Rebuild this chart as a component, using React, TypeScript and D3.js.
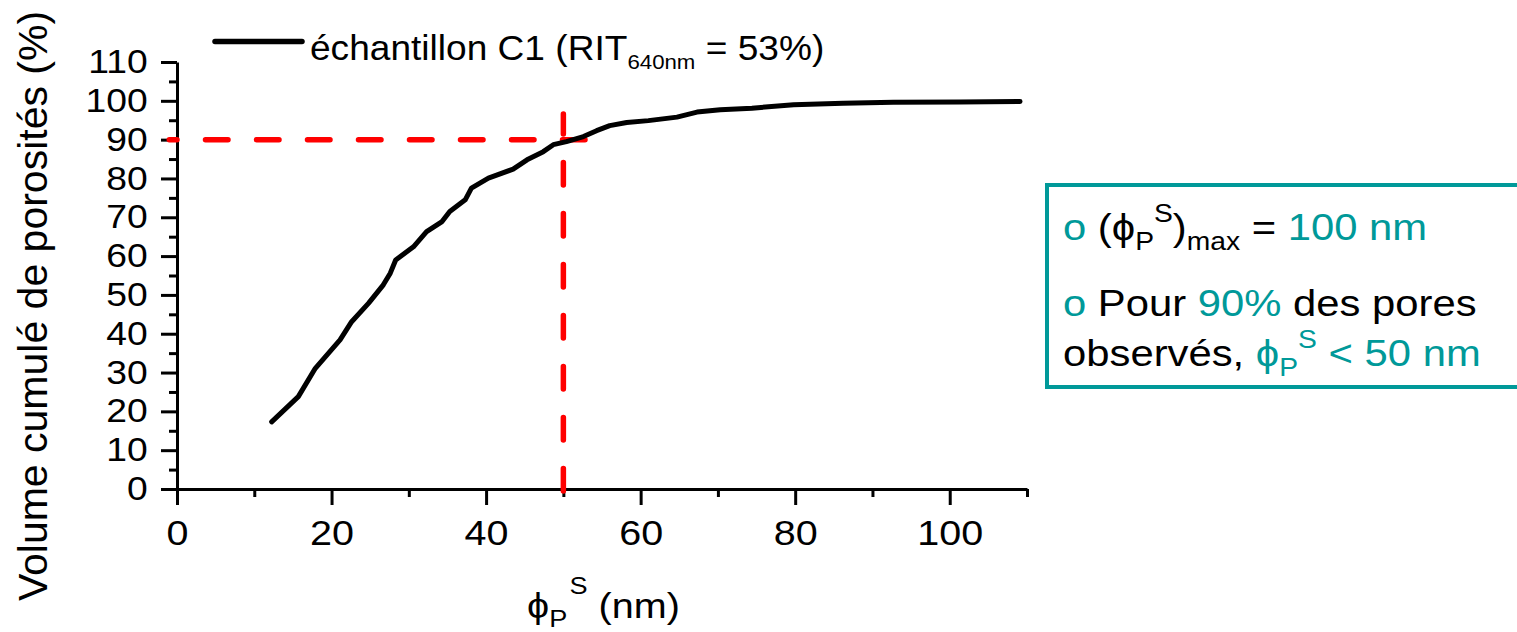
import { useEffect, useRef } from 'react';
import * as d3 from 'd3';

// cumulative pore volume, sample C1
const sizeNm = [12.25, 15.7, 17.9, 21.1, 22.6, 24.8, 26.7, 27.6, 28.3, 30.6, 32.3, 34.3, 35.3, 37.3, 38.1, 40.3, 43.5, 45.3, 47.4, 48.7, 50.4, 52.6, 54.3, 56.0, 58.2, 61.0, 64.7, 67.3, 70.3, 74.4, 79.8, 86.2, 92.7, 101.3, 109.1];
const cumVolume = [17.3, 23.8, 31.1, 38.4, 43.1, 47.9, 52.6, 55.6, 59.0, 62.4, 66.3, 68.9, 71.5, 74.5, 77.5, 80.1, 82.4, 84.8, 86.9, 88.7, 89.5, 90.8, 92.3, 93.6, 94.4, 94.9, 95.8, 97.1, 97.7, 98.1, 99.0, 99.4, 99.6, 99.7, 99.8];

const xMajorTicks = [0, 20, 40, 60, 80, 100];
const xMinorTicks = [10, 30, 50, 70, 90, 110];
const yMajorTicks = [0, 10, 20, 30, 40, 50, 60, 70, 80, 90, 100, 110];
const yMinorTicks = [5, 15, 25, 35, 45, 55, 65, 75, 85, 95, 105];

// 90 % guide lines
const guideX = [52.8, -1];
const guideLevel = 90;
const guideY = [-0.5, 96.6];
const guideSize = 50;

const FONT = '"Liberation Sans", Arial, Helvetica, sans-serif';
const TEAL = '#009999';
const SX = 1.13; // glyphs in the source are stretched horizontally

export default function App() {
    const ref = useRef<SVGSVGElement>(null);

    useEffect(() => {
        if (!ref.current) return;
        const svg = d3.select(ref.current);
        svg.selectAll('*').remove();

        const x = d3.scaleLinear().domain([0, 110]).range([177, 1027]);
        const y = d3.scaleLinear().domain([0, 110]).range([489, 62]);

        const styleAxis = (g, size) => {
            g.attr('font-family', FONT).attr('font-size', size);
            g.selectAll('line').attr('stroke', '#000').attr('stroke-width', 3);
            g.selectAll('.domain').attr('stroke', '#000').attr('stroke-width', 3);
            g.selectAll('text').attr('fill', '#000').attr('transform', `scale(${SX},1)`);
        };

        // X axis
        const gxMinor = svg.append('g').attr('transform', `translate(0,${y(0)})`)
            .call(d3.axisBottom(x).tickValues(xMinorTicks).tickSize(8).tickFormat(() => ''));
        gxMinor.select('.domain').remove();
        styleAxis(gxMinor, 35);
        const gx = svg.append('g').attr('transform', `translate(0,${y(0)})`)
            .call(d3.axisBottom(x).tickValues(xMajorTicks).tickSize(16).tickSizeOuter(0).tickPadding(15).tickFormat(d3.format('d')));
        styleAxis(gx, 35);

        // Y axis
        const gyMinor = svg.append('g').attr('transform', `translate(${x(0)},0)`)
            .call(d3.axisLeft(y).tickValues(yMinorTicks).tickSize(8).tickFormat(() => ''));
        gyMinor.select('.domain').remove();
        styleAxis(gyMinor, 33);
        const gy = svg.append('g').attr('transform', `translate(${x(0)},0)`)
            .call(d3.axisLeft(y).tickValues(yMajorTicks).tickSize(16).tickSizeOuter(0).tickPadding(10).tickFormat(d3.format('d')));
        styleAxis(gy, 33);

        // Guide lines
        const guide = d3.line().x(d => x(d[0])).y(d => y(d[1]));
        svg.append('path')
            .attr('d', guide(guideX.map(v => [v, guideLevel])))
            .attr('fill', 'none').attr('stroke', '#ff0000').attr('stroke-width', 5.5)
            .attr('stroke-linecap', 'round').attr('stroke-dasharray', '22.5 28.5');
        svg.append('path')
            .attr('d', guide(guideY.map(v => [guideSize, v])))
            .attr('fill', 'none').attr('stroke', '#ff0000').attr('stroke-width', 5.5)
            .attr('stroke-linecap', 'round').attr('stroke-dasharray', '22.5 28.5');

        // Curve
        const line = d3.line().x((d, i) => x(sizeNm[i])).y(d => y(d));
        svg.append('path')
            .attr('d', line(cumVolume))
            .attr('fill', 'none').attr('stroke', '#000').attr('stroke-width', 5)
            .attr('stroke-linejoin', 'round').attr('stroke-linecap', 'round');

        // Legend
        svg.append('line')
            .attr('x1', 215).attr('x2', 302).attr('y1', 41.5).attr('y2', 41.5)
            .attr('stroke', '#000').attr('stroke-width', 5.5).attr('stroke-linecap', 'round');
        const lg = svg.append('text')
            .attr('transform', `translate(310,60) scale(1.06,1)`)
            .attr('font-family', FONT).attr('font-size', 35);
        lg.append('tspan').text('échantillon C1 (RIT');
        lg.append('tspan').attr('font-size', 21).attr('dy', 9).text('640nm');
        lg.append('tspan').attr('dy', -9).text(' = 53%)');

        // Y title
        svg.append('text')
            .attr('transform', 'translate(47,306) rotate(-90)')
            .attr('text-anchor', 'middle')
            .attr('font-family', FONT).attr('font-size', 41)
            .text('Volume cumulé de porosités (%)');

        // X title
        const xt = svg.append('text')
            .attr('transform', `translate(527,618) scale(${SX},1)`)
            .attr('font-family', FONT).attr('font-size', 35);
        xt.append('tspan').text('ϕ');
        xt.append('tspan').attr('font-size', 24).attr('dy', 9).text('P');
        xt.append('tspan').attr('font-size', 24).attr('dy', -33).attr('dx', 2).text('S');
        xt.append('tspan').attr('dy', 24).text(' (nm)');

        // Annotation box
        svg.append('rect')
            .attr('x', 1047).attr('y', 185).attr('width', 500).attr('height', 202)
            .attr('fill', '#fff').attr('stroke', TEAL).attr('stroke-width', 4);

        const boxText = (yy) => svg.append('text')
            .attr('transform', `translate(1063,${yy}) scale(${SX},1)`)
            .attr('font-family', FONT).attr('font-size', 37).attr('fill', '#000');

        const l1 = boxText(240);
        l1.append('tspan').attr('fill', TEAL).text('o');
        l1.append('tspan').text(' (ϕ');
        l1.append('tspan').attr('font-size', 25).attr('dy', 10).text('P');
        l1.append('tspan').attr('font-size', 25).attr('dy', -28).text('S');
        l1.append('tspan').attr('dy', 18).text(')');
        l1.append('tspan').attr('font-size', 25).attr('dy', 10).text('max');
        l1.append('tspan').attr('dy', -10).text(' = ');
        l1.append('tspan').attr('fill', TEAL).text('100 nm');

        const l2 = boxText(316);
        l2.append('tspan').attr('fill', TEAL).text('o');
        l2.append('tspan').text(' Pour ');
        l2.append('tspan').attr('fill', TEAL).text('90%');
        l2.append('tspan').text(' des pores');

        const l3 = boxText(366);
        l3.append('tspan').text('observés, ');
        l3.append('tspan').attr('fill', TEAL).text('ϕ');
        l3.append('tspan').attr('fill', TEAL).attr('font-size', 25).attr('dy', 10).text('P');
        l3.append('tspan').attr('fill', TEAL).attr('font-size', 25).attr('dy', -28).text('S');
        l3.append('tspan').attr('fill', TEAL).attr('dy', 18).text(' < 50 nm');
    }, []);

    return (
        <svg ref={ref} width={1517} height={632}
            style={{ position: 'absolute', left: 0, top: 0, background: '#fff' }} />
    );
}
